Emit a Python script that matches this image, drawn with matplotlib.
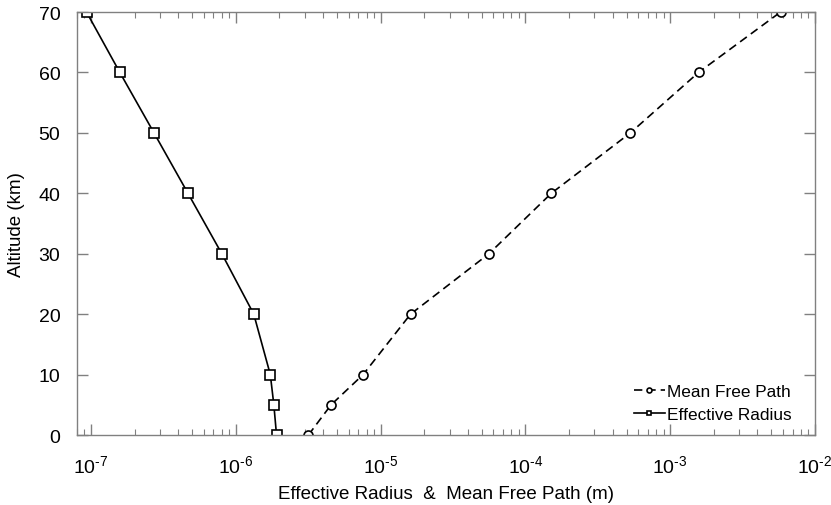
import numpy as np
import matplotlib
matplotlib.use('Agg')
import matplotlib.pyplot as plt
from matplotlib.ticker import LogLocator, FuncFormatter

plt.rcParams['font.family'] = ['Liberation Sans', 'DejaVu Sans']
plt.rcParams['mathtext.fontset'] = 'custom'
plt.rcParams['mathtext.rm'] = 'Liberation Sans'

# altitude levels (km)
alt_mfp = [0, 5, 10, 20, 30, 40, 50, 60, 70]
alt_reff = [0, 5, 10, 20, 30, 40, 50, 60, 70]

# mean free path (m)
mfp = [3.17e-6, 4.55e-6, 7.57e-6, 1.61e-5, 5.6e-5, 1.51e-4, 5.31e-4, 1.57e-3, 5.79e-3]
# effective radius (m)
reff = [1.91e-6, 1.83e-6, 1.73e-6, 1.33e-6, 8.0e-7, 4.67e-7, 2.72e-7, 1.58e-7, 9.3e-8]

fig = plt.figure(figsize=(8.31, 5.06), dpi=100)
ax = fig.add_axes([0.0927, 0.1383, 0.888, 0.836])

ax.plot(mfp, alt_mfp, 'k--', marker='o', ms=6.5, mfc='white', mew=1.2, lw=1.2,
        dashes=(5, 3), label='Mean Free Path')
ax.plot(reff, alt_reff, 'k-', marker='s', ms=6.5, mfc='white', mew=1.2, lw=1.2,
        label='Effective Radius')

ax.set_xscale('log')
ax.set_xlim(8e-8, 1e-2)
ax.set_ylim(0, 70)
ax.set_yticks(np.arange(0, 71, 10))
ax.xaxis.set_major_locator(LogLocator(base=10, numticks=10))
ax.xaxis.set_minor_locator(LogLocator(base=10, subs=np.arange(2, 10), numticks=20))
# hyphen in the exponent, like the original
ax.xaxis.set_major_formatter(FuncFormatter(
    lambda v, p: r'$\mathregular{10^{\text{-%d}}}$' % round(-np.log10(v))))

for s in ax.spines.values():
    s.set_color('#808080')
    s.set_linewidth(1.0)
ax.tick_params(which='both', direction='in', top=True, right=True, colors='#808080',
               labelcolor='black', labelsize=14)
ax.tick_params(which='major', length=8, width=1.0)
ax.tick_params(which='minor', length=4, width=0.8)
ax.tick_params(axis='x', pad=14)
ax.tick_params(axis='y', pad=12)

ax.set_xlabel('Effective Radius  &  Mean Free Path (m)', fontsize=13.5, labelpad=6)
ax.set_ylabel('Altitude (km)', fontsize=13.5, labelpad=10)

ax.legend(loc='lower right', frameon=False, fontsize=12.4, handlelength=1.8,
          handletextpad=0.15, labelspacing=0.42, markerscale=0.55,
          bbox_to_anchor=(0.99, -0.005))

fig.savefig('out.png', dpi=100)
